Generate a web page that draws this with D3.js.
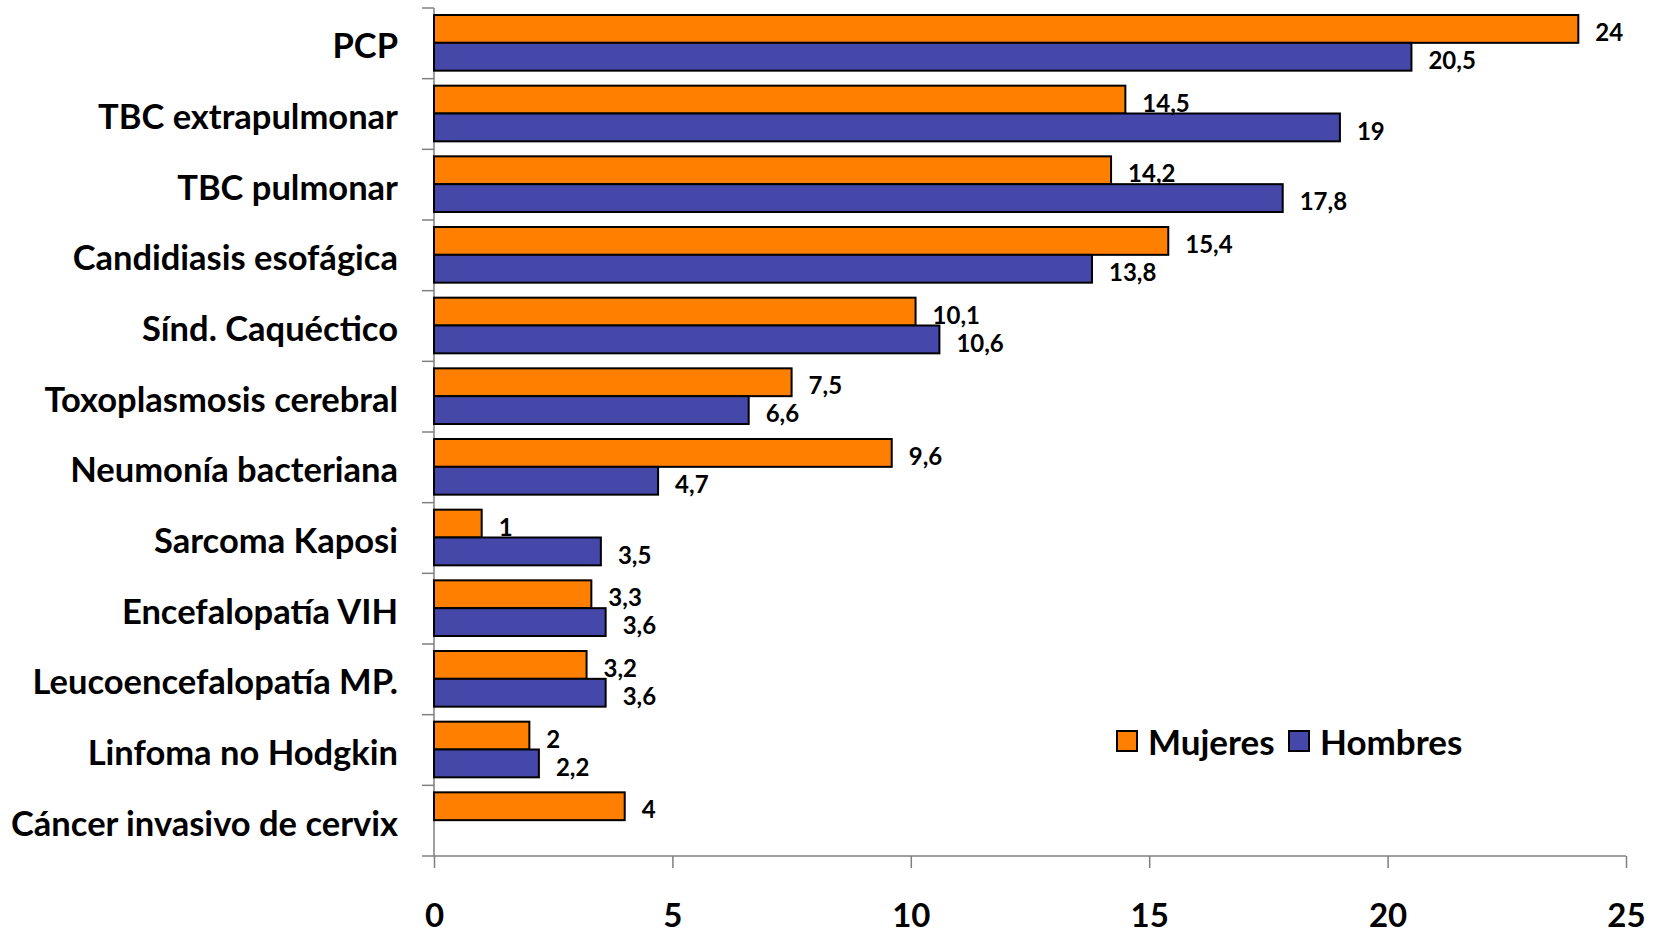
<!DOCTYPE html>
<html>
<head>
<meta charset="utf-8">
<script src="https://cdn.jsdelivr.net/npm/d3@7"></script>
<style>
  body { margin: 0; background: #fff; }
  svg text { font-family: Lato, "Open Sans", sans-serif; font-weight: bold; fill: #000; }
</style>
</head>
<body>
<div id="chart"></div>
<script>
// Categories, top to bottom
const categories = [
    "PCP",
    "TBC extrapulmonar",
    "TBC pulmonar",
    "Candidiasis esofágica",
    "Sínd. Caquéctico",
    "Toxoplasmosis cerebral",
    "Neumonía bacteriana",
    "Sarcoma Kaposi",
    "Encefalopatía VIH",
    "Leucoencefalopatía MP.",
    "Linfoma no Hodgkin",
    "Cáncer invasivo de cervix"
];
const series = ["Mujeres", "Hombres"];
const mujeres = [24, 14.5, 14.2, 15.4, 10.1, 7.5, 9.6, 1, 3.3, 3.2, 2, 4];
const hombres = [20.5, 19, 17.8, 13.8, 10.6, 6.6, 4.7, 3.5, 3.6, 3.6, 2.2, null];
const xTicks = [0, 5, 10, 15, 20, 25];
const colors = { Mujeres: "#ff7f00", Hombres: "#4547a9" };

const width = 1659;
const height = 931;
const margin = { top: 8, right: 33, bottom: 75, left: 434 };

const svg = d3.select("#chart")
    .append("svg")
    .attr("width", width)
    .attr("height", height);

// Scales
const x = d3.scaleLinear()
    .domain([0, 25])
    .range([margin.left, width - margin.right]);

const y = d3.scaleBand()
    .domain(categories)
    .range([margin.top, height - margin.bottom])
    .padding(0);

const ySub = d3.scaleBand()
    .domain(series)
    .range([7, y.bandwidth() - 8]);

// Build rows for bars
const rows = [];
categories.forEach((c, i) => {
    rows.push({ cat: c, s: "Mujeres", v: mujeres[i] });
    if (hombres[i] != null) rows.push({ cat: c, s: "Hombres", v: hombres[i] });
});

// Y axis line and boundary ticks
const axisColor = "#7f7f7f";
svg.append("line")
    .attr("x1", x(0)).attr("x2", x(0))
    .attr("y1", margin.top).attr("y2", height - margin.bottom)
    .attr("stroke", axisColor).attr("stroke-width", 1.5);

svg.selectAll(".ytick")
    .data(categories)
    .enter()
    .append("line")
    .attr("x1", x(0) - 12).attr("x2", x(0))
    .attr("y1", d => y(d)).attr("y2", d => y(d))
    .attr("stroke", axisColor).attr("stroke-width", 1.5);

// X axis
const xAxis = svg.append("g")
    .attr("transform", `translate(0, ${height - margin.bottom})`)
    .call(d3.axisBottom(x).tickValues(xTicks).tickSize(12).tickSizeOuter(0).tickPadding(36));
xAxis.select(".domain").attr("stroke", axisColor).attr("stroke-width", 1.5)
    .attr("d", `M${x(0) - 12},0H${x(25)}`);
xAxis.selectAll(".tick line").attr("stroke", axisColor).attr("stroke-width", 1.5);
xAxis.selectAll(".tick text")
    .attr("font-size", "33px")
    .attr("font-family", "Lato, sans-serif")
    .attr("font-weight", "bold")
    .attr("fill", "#000");

// Category labels
svg.selectAll(".cat-label")
    .data(categories)
    .enter()
    .append("text")
    .attr("x", 398)
    .attr("y", d => y(d) + y.bandwidth() / 2 + 6)
    .attr("text-anchor", "end")
    .attr("dominant-baseline", "middle")
    .attr("font-size", "34.5px")
    .text(d => d);

// Bars
svg.selectAll(".bar")
    .data(rows)
    .enter()
    .append("rect")
    .attr("x", x(0))
    .attr("y", d => y(d.cat) + ySub(d.s))
    .attr("width", d => x(d.v) - x(0))
    .attr("height", ySub.bandwidth())
    .attr("fill", d => colors[d.s])
    .attr("stroke", "#000")
    .attr("stroke-width", 2);

// Value labels
svg.selectAll(".val")
    .data(rows)
    .enter()
    .append("text")
    .attr("x", d => x(d.v) + 17)
    .attr("y", d => y(d.cat) + ySub(d.s) + ySub.bandwidth() / 2 + 6)
    .attr("dominant-baseline", "middle")
    .attr("font-size", "24px")
    .text(d => String(d.v).replace(".", ","));

// Legend
const legend = svg.append("g").attr("transform", "translate(1117, 731)");
const legX = [0, 172];
series.forEach((s, i) => {
    const g = legend.append("g").attr("transform", `translate(${legX[i]}, 0)`);
    g.append("rect")
        .attr("width", 20).attr("height", 20)
        .attr("fill", colors[s])
        .attr("stroke", "#000").attr("stroke-width", 2);
    g.append("text")
        .attr("x", 31).attr("y", 15)
        .attr("dominant-baseline", "middle")
        .attr("font-size", "35px")
        .text(s);
});
</script>
</body>
</html>
